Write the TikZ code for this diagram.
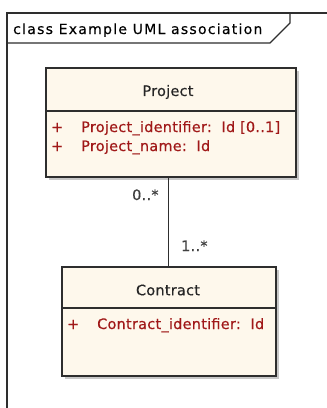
\documentclass[tikz,border=0pt]{standalone}
\usepackage{fontspec}
\usepackage{graphicx}
\setmainfont{DejaVu Sans}
\newfontfamily\titlefont[LetterSpace=9,FakeBold=0.3]{DejaVu Sans}
\newfontfamily\boxfont[LetterSpace=2,FakeBold=0.5]{DejaVu Sans}
\definecolor{classfill}{HTML}{FEF8EC}
\definecolor{attrred}{HTML}{A01818}
\definecolor{shadowgrey}{HTML}{C8C8C8}
\definecolor{edgegrey}{HTML}{2E2E2E}
\tikzset{
  frameline/.style={draw=edgegrey, line width=1.2pt},
  classbox/.style={draw=edgegrey, line width=1.6pt, fill=classfill, rectangle, inner sep=0pt},
  boxshadow/.style={fill=shadowgrey},
  sepline/.style={draw=edgegrey, line width=1.4pt},
  headtext/.style={font=\boxfont\fontsize{14.4}{16}\selectfont, text=black!85},
  attrtext/.style={font=\boxfont\fontsize{14.4}{16}\selectfont, text=attrred, anchor=base west, inner sep=0pt},
  multtext/.style={font=\boxfont\fontsize{14.4}{16}\selectfont, text=black!75, anchor=base west, inner sep=0pt},
  assoc/.style={draw=edgegrey, line width=1.3pt},
}
\begin{document}
\begin{tikzpicture}[x=1pt,y=-1pt]
\useasboundingbox (0,0) rectangle (327,408);
\fill[white] (0,0) rectangle (327,408);
% frame
\draw[frameline] (7,410) -- (7,13) -- (329,13);
\draw[frameline] (7,43) -- (270,43) -- (290,23) -- (290,13);
\node[font=\titlefont\fontsize{14}{16}\selectfont, anchor=base west, inner sep=0pt] (title) at (13,34) {class Example UML association};
% Project
\fill[boxshadow] (49,71) rectangle (299,180);
\node[classbox, minimum width=250pt, minimum height=109pt, anchor=north west] (project) at (45,67) {};
\draw[sepline] (45,111) -- (295,111);
\node[headtext] (projname) at (168,92) {Project};
\node[attrtext] (pplus1) at (51,132) {+};
\node[attrtext] (pattr1) at (81,132) {Project\_identifier:\ \ Id [0..1]};
\node[attrtext] (pplus2) at (51,151) {+};
\node[attrtext] (pattr2) at (81,151) {Project\_name:\ \ Id};
% Contract
\fill[boxshadow] (65,270) rectangle (279,379);
\node[classbox, minimum width=214pt, minimum height=109pt, anchor=north west] (contract) at (61,266) {};
\draw[sepline] (61,308) -- (275,308);
\node[headtext] (contname) at (168,290) {Contract};
\node[attrtext] (cplus1) at (67,329) {+};
\node[attrtext] (cattr1) at (97,329) {Contract\_identifier:\ \ Id};
% association
\draw[assoc] (contract.north |- project.south) -- (contract.north);
\node[multtext] (m1) at (132,200) {0..*};
\node[multtext] (m2) at (181,251) {1..*};
\end{tikzpicture}
\end{document}
